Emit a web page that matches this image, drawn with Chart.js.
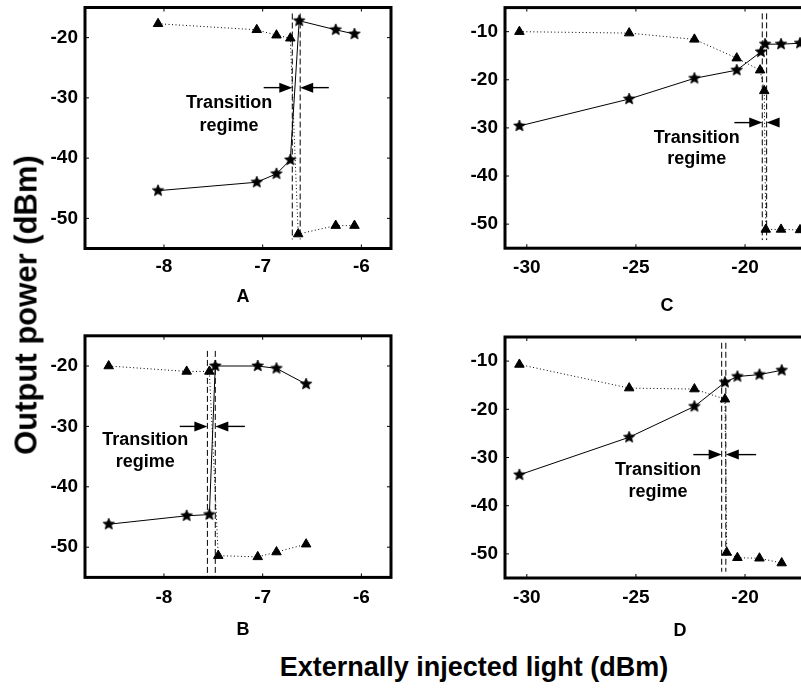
<!DOCTYPE html>
<html><head><meta charset="utf-8">
<script src="https://cdn.jsdelivr.net/npm/chart.js@4"></script>
<style>
html,body{margin:0;padding:0;background:#fff;overflow:hidden;width:801px;height:691px;position:relative;}
canvas{position:absolute;}
.t{position:absolute;font-family:'Liberation Sans',Arial,sans-serif;font-weight:bold;color:#000;white-space:nowrap;transform:translate(-50%,-50%);line-height:1;}
</style></head><body>
<canvas id="cA" width="400" height="300" style="left:0;top:0"></canvas>
<canvas id="cB" width="400" height="300" style="left:0;top:320px"></canvas>
<canvas id="cC" width="400" height="300" style="left:420px;top:0"></canvas>
<canvas id="cD" width="400" height="300" style="left:420px;top:320px"></canvas>
<div class="t" style="left:243px;top:296px;font-size:18px">A</div>
<div class="t" style="left:243px;top:629px;font-size:18px">B</div>
<div class="t" style="left:667px;top:305px;font-size:18px">C</div>
<div class="t" style="left:680px;top:630px;font-size:18px">D</div>
<div class="t" style="left:474px;top:667px;font-size:27px">Externally injected light (dBm)</div>
<div class="t" style="left:26px;top:305px;font-size:31px;transform:translate(-50%,-50%) rotate(-90deg)">Output power (dBm)</div>
<script>
// ---------- data ----------
const noteText = ['Transition', 'regime'];

// Panel A
const xTicksAB = [-8, -7, -6];
const yTicksAB = [-50, -40, -30, -20];
const xA_tri  = [-8.06, -7.06, -6.86, -6.72, -6.64, -6.26, -6.07];
const yA_tri  = [-17.7, -18.7, -19.6, -20.1, -52.6, -51.2, -51.2];
const xA_star = [-8.06, -7.06, -6.86, -6.72, -6.63, -6.26, -6.07];
const yA_star = [-45.4, -44.0, -42.6, -40.3, -17.2, -18.7, -19.4];
const dashA_x = [-6.70, -6.62];
const dashA_y = [-16, -53.5];
const arrowA = {y: -28.3, from: [-6.99, -6.33], to: [-6.70, -6.62]};
const noteA = {x: -7.34, y: [-30.9, -34.7]};

// Panel B
const xB_tri  = [-8.56, -7.77, -7.54, -7.45, -7.05, -6.86, -6.56];
const yB_tri  = [-20.0, -20.9, -20.9, -51.4, -51.6, -50.8, -49.5];
const xB_star = [-8.56, -7.77, -7.54, -7.48, -7.05, -6.86, -6.56];
const yB_star = [-46.2, -44.8, -44.6, -20.0, -20.0, -20.4, -23.0];
const dashB_x = [-7.56, -7.48];
const dashB_y = [-17.5, -55];
const arrowB = {y: -30.0, from: [-7.84, -7.18], to: [-7.56, -7.48]};
const noteB = {x: -8.19, y: [-32.25, -35.9]};

// Panel C
const xTicksCD = [-30, -25, -20];
const yTicksCD = [-50, -40, -30, -20, -10];
const xC_tri  = [-30.34, -25.31, -22.32, -20.38, -19.31, -19.12, -19.05, -18.35, -17.48];
const yC_tri  = [-10.0, -10.3, -11.6, -15.5, -18.0, -22.3, -51.1, -51.1, -51.2];
const xC_star = [-30.34, -25.31, -22.32, -20.38, -19.27, -19.08, -18.35, -17.48];
const yC_star = [-29.6, -24.0, -19.7, -18.0, -14.2, -12.6, -12.6, -12.4];
const dashC_x = [-19.21, -19.01];
const dashC_y = [-6.2, -53.3];
const arrowC = {y: -28.9, from: [-20.49, -18.66], to: [-19.21, -19.01]};
const noteC = {x: -22.21, y: [-32.2, -36.5]};

// Panel D
const xD_tri  = [-30.34, -25.31, -22.32, -20.92, -20.84, -20.35, -19.34, -18.32];
const yD_tri  = [-10.7, -15.6, -15.8, -17.9, -49.7, -50.8, -50.9, -51.9];
const xD_star = [-30.34, -25.31, -22.32, -20.92, -20.35, -19.34, -18.32];
const yD_star = [-33.6, -25.8, -19.4, -14.4, -13.2, -12.8, -11.9];
const dashD_x = [-21.07, -20.88];
const dashD_y = [-6.2, -53.7];
const arrowD = {y: -29.4, from: [-22.37, -19.49], to: [-21.07, -20.88]};
const noteD = {x: -23.99, y: [-32.7, -37.1]};

// ---------- rendering ----------
const FONT = "'Liberation Sans', Arial, sans-serif";
Chart.defaults.color = '#000';
Chart.defaults.font.family = FONT;

function zip(xs, ys){ return xs.map((x,i)=>({x:x, y:ys[i]})); }

function makeStar(r){
  const s = Math.ceil(r*2)+2;
  const c = document.createElement('canvas'); c.width = s; c.height = s;
  const g = c.getContext('2d');
  g.translate(s/2, s/2);
  g.beginPath();
  for (let i=0;i<10;i++){
    const rr = (i%2) ? r*0.45 : r;
    const a = -Math.PI/2 + i*Math.PI/5;
    g.lineTo(rr*Math.cos(a), rr*Math.sin(a));
  }
  g.closePath(); g.fillStyle = '#000'; g.fill();
  g.lineWidth = 0.8; g.strokeStyle = '#000'; g.stroke();
  return c;
}
const starImg = makeStar(6);

const framePlugin = {
  id: 'frame',
  afterDatasetsDraw(chart, args, o){
    const {ctx, chartArea:a, scales:{x, y}} = chart;
    ctx.save();
    // note text
    ctx.fillStyle = '#000';
    ctx.font = "bold 18px " + FONT;
    ctx.textAlign = 'center'; ctx.textBaseline = 'middle';
    noteText.forEach((t,i)=>{
      ctx.fillText(t, x.getPixelForValue(o.note.x), y.getPixelForValue(o.note.y[i]));
    });
    // arrows
    ctx.strokeStyle = '#000'; ctx.lineWidth = 1.4;
    const py = y.getPixelForValue(o.arrow.y);
    for (let i=0;i<2;i++){
      const x0 = x.getPixelForValue(o.arrow.from[i]);
      const x1 = x.getPixelForValue(o.arrow.to[i]);
      const dir = x1 > x0 ? 1 : -1;
      ctx.beginPath(); ctx.moveTo(x0, py); ctx.lineTo(x1 - dir*10, py); ctx.stroke();
      ctx.beginPath(); ctx.moveTo(x1, py); ctx.lineTo(x1 - dir*13, py-5); ctx.lineTo(x1 - dir*13, py+5); ctx.closePath(); ctx.fill();
    }
    // inward ticks
    ctx.lineWidth = 1;
    x.ticks.forEach(t=>{
      const px = x.getPixelForValue(t.value);
      ctx.beginPath(); ctx.moveTo(px, a.bottom); ctx.lineTo(px, a.bottom-4);
      ctx.moveTo(px, a.top); ctx.lineTo(px, a.top+4); ctx.stroke();
    });
    y.ticks.forEach(t=>{
      const pv = y.getPixelForValue(t.value);
      ctx.beginPath(); ctx.moveTo(a.left, pv); ctx.lineTo(a.left+4, pv);
      ctx.moveTo(a.right, pv); ctx.lineTo(a.right-4, pv); ctx.stroke();
    });
    // box
    ctx.lineWidth = 3;
    ctx.strokeRect(a.left, a.top, a.right-a.left, a.bottom-a.top);
    ctx.restore();
  }
};

function panel(id, p){
  const dashSet = (xv) => ({
    data: zip([xv, xv], p.dashY), borderColor:'#000', borderWidth:1, borderDash:[6,3],
    pointRadius:0, fill:false
  });
  return new Chart(document.getElementById(id), {
    type: 'line',
    data: { datasets: [
      dashSet(p.dashX[0]), dashSet(p.dashX[1]),
      { data: zip(p.xTri, p.yTri), borderColor:'#000', borderWidth:1, borderDash:[1,2.5],
        pointStyle:'triangle', pointRadius:5.5, pointBackgroundColor:'#000', pointBorderColor:'#000',
        pointBorderWidth:1, fill:false },
      { data: zip(p.xStar, p.yStar), borderColor:'#000', borderWidth:1,
        pointStyle: starImg, pointRadius:6, fill:false }
    ]},
    options: {
      responsive:false, animation:false, devicePixelRatio:1,
      layout:{ padding:{ left:0, top:p.top, right:p.right, bottom:0 } },
      plugins:{ legend:{display:false}, tooltip:{enabled:false},
        frame:{ note:p.note, arrow:p.arrow } },
      scales:{
        x:{ type:'linear', min:p.xMin, max:p.xMax,
            grid:{display:false, drawTicks:false, tickLength:0}, border:{display:false},
            ticks:{ font:{size:19, weight:'bold'}, color:'#000', padding:p.xpad, maxRotation:0, autoSkip:false },
            afterBuildTicks: s => { s.ticks = p.xTicks.map(v=>({value:v})); },
            afterFit: s => { s.height = p.xh; s.paddingLeft = 0; s.paddingRight = 0; s.paddingTop = 0; s.paddingBottom = 0; } },
        y:{ type:'linear', min:p.yMin, max:p.yMax,
            grid:{display:false, drawTicks:false, tickLength:0}, border:{display:false},
            ticks:{ font:{size:19, weight:'bold'}, color:'#000', padding:7, autoSkip:false },
            afterBuildTicks: s => { s.ticks = p.yTicks.map(v=>({value:v})); },
            afterFit: s => { s.width = 85; s.paddingLeft = 0; s.paddingRight = 0; s.paddingTop = 0; s.paddingBottom = 0; } }
      }
    },
    plugins:[framePlugin]
  });
}

panel('cA', { xTri:xA_tri, yTri:yA_tri, xStar:xA_star, yStar:yA_star, dashX:dashA_x, dashY:dashA_y,
  arrow:arrowA, note:noteA, xTicks:xTicksAB, yTicks:yTicksAB, xMin:-8.8, xMax:-5.7, yMin:-55, yMax:-15,
  top:7.5, right:9, xh:51.5, xpad:7 });
panel('cB', { xTri:xB_tri, yTri:yB_tri, xStar:xB_star, yStar:yB_star, dashX:dashB_x, dashY:dashB_y,
  arrow:arrowB, note:noteB, xTicks:xTicksAB, yTicks:yTicksAB, xMin:-8.8, xMax:-5.7, yMin:-55, yMax:-15,
  top:15.8, right:9, xh:42.6, xpad:9 });
panel('cC', { xTri:xC_tri, yTri:yC_tri, xStar:xC_star, yStar:yC_star, dashX:dashC_x, dashY:dashC_y,
  arrow:arrowC, note:noteC, xTicks:xTicksCD, yTicks:yTicksCD, xMin:-31, xMax:-17, yMin:-55, yMax:-5,
  top:7.6, right:9.5, xh:51.8, xpad:8 });
panel('cD', { xTri:xD_tri, yTri:yD_tri, xStar:xD_star, yStar:yD_star, dashX:dashD_x, dashY:dashD_y,
  arrow:arrowD, note:noteD, xTicks:xTicksCD, yTicks:yTicksCD, xMin:-31, xMax:-17, yMin:-55, yMax:-5,
  top:17, right:9.5, xh:42, xpad:8 });
</script>
</body></html>
